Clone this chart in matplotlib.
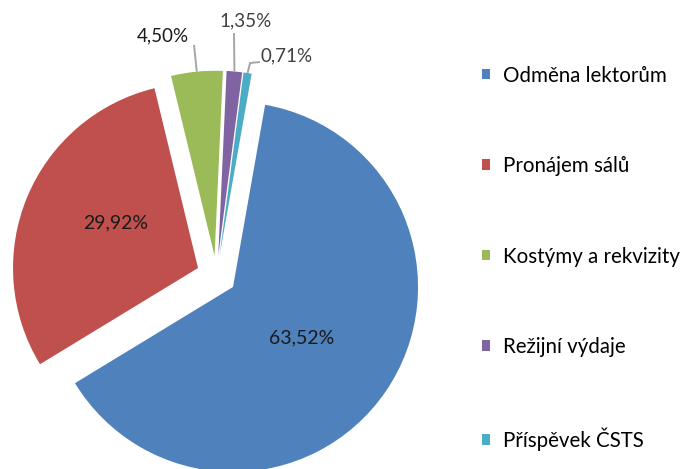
import matplotlib
matplotlib.use("Agg")
import matplotlib.pyplot as plt
import numpy as np

categories = ["Odměna lektorům", "Pronájem sálů", "Kostýmy a rekvizity",
              "Režijní výdaje", "Příspěvek ČSTS"]
values = [63.52, 29.92, 4.50, 1.35, 0.71]
pct_labels = ["63,52%", "29,92%", "4,50%", "1,35%", "0,71%"]
colors = ["#4F81BD", "#C0504D", "#9BBB59", "#8064A2", "#4BACC6"]

plt.rcParams['font.family'] = ['Lato', 'DejaVu Sans']

W, H = 687, 469
fig = plt.figure(figsize=(W / 100, H / 100), dpi=100)
ax = fig.add_axes([0, 0, 1, 1])

R = 185
cx, cy = 216.5, H - 275.7
wedges, _ = ax.pie(values, colors=colors, startangle=80, counterclock=False,
                   radius=R, center=(cx, cy), explode=[20] * len(values),
                   wedgeprops=dict(linewidth=0))
ax.set_xlim(0, W)
ax.set_ylim(0, H)
ax.set_aspect('equal')
ax.axis('off')

# inside labels for the two large slices: (fraction of radius, angle shift)
inside = {0: (0.46, -2.0), 1: (0.51, -6.4)}
for i, (frac, shift) in inside.items():
    w = wedges[i]
    mid = np.deg2rad((w.theta1 + w.theta2) / 2 + shift)
    x = w.center[0] + frac * R * np.cos(mid)
    y = w.center[1] + frac * R * np.sin(mid)
    ax.text(x, y, pct_labels[i], ha='center', va='center', fontsize=14,
            color='#1a1a1a')

# outside labels with leader lines
line_col = '#a6a6a6'
outside = {
    2: dict(path=[(194, 45)], text=(163, 36), color='#1a1a1a'),
    3: dict(path=[(234, 33)], text=(246, 21), color='#404040'),
    4: dict(path=[(250, 63), (260, 62)], text=(287, 56), color='#404040'),
}
for i, spec in outside.items():
    w = wedges[i]
    mid = np.deg2rad((w.theta1 + w.theta2) / 2)
    ax0 = w.center[0] + R * np.cos(mid)
    ay0 = w.center[1] + R * np.sin(mid)
    xs = [ax0] + [p[0] for p in spec['path']]
    ys = [ay0] + [H - p[1] for p in spec['path']]
    ax.plot(xs, ys, color=line_col, lw=1.4, solid_capstyle='butt')
    tx, ty = spec['text']
    ax.text(tx, H - ty, pct_labels[i], ha='center', va='center', fontsize=13.5,
            color=spec['color'])

leg = ax.legend(wedges, categories, loc='upper left',
                bbox_to_anchor=(482 / W, 1 - 65.5 / H), frameon=False,
                fontsize=14.8, handlelength=0.4, handleheight=0.4,
                handletextpad=0.6, labelspacing=3.43, borderaxespad=0,
                borderpad=0)

fig.savefig("out.png", dpi=100)
